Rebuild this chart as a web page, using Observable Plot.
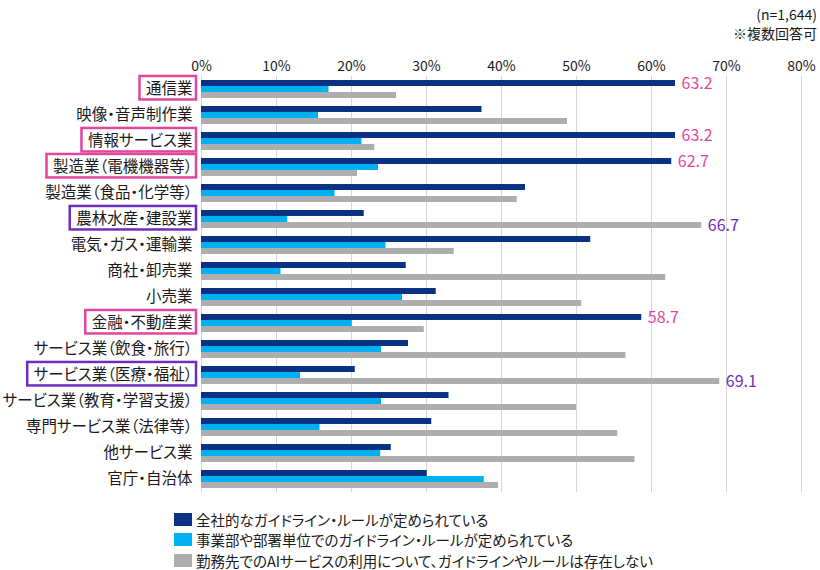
<!DOCTYPE html>
<html>
<head>
<meta charset="utf-8">
<script src="https://cdn.jsdelivr.net/npm/d3@7"></script>
<script src="https://cdn.jsdelivr.net/npm/@observablehq/plot@0.6"></script>
<style>
  body { margin: 0; background: #fff; font-family: "Noto Sans CJK JP", "Noto Sans", sans-serif; color: #1a1a1a; }
  #wrap { position: relative; width: 820px; height: 570px; overflow: hidden; }
  #chart { position: absolute; left: 0; top: 0; }
  #note { position: absolute; right: 3px; top: 5px; text-align: right; font-size: 14px; line-height: 19px; font-feature-settings: "palt"; }
  #legend { position: absolute; left: 174px; top: 509px; font-size: 14.5px; font-feature-settings: "palt"; }
  .item { display: flex; align-items: center; height: 20.5px; white-space: nowrap; }
  .sw { width: 18px; height: 13px; margin-right: 4px; flex: none; }
  svg text { font-feature-settings: "palt"; }
</style>
</head>
<body>
<div id="wrap">
  <div id="chart"></div>
  <div id="note"></div>
  <div id="legend"></div>
</div>
<script>
// Industries, top to bottom
const categories = [
  "通信業", "映像・音声制作業", "情報サービス業", "製造業（電機機器等）",
  "製造業（食品・化学等）", "農林水産・建設業", "電気・ガス・運輸業", "商社・卸売業",
  "小売業", "金融・不動産業", "サービス業（飲食・旅行）", "サービス業（医療・福祉）",
  "サービス業（教育・学習支援）", "専門サービス業（法律等）", "他サービス業", "官庁・自治体"
];

// Answer options (series)
const seriesNames = [
  "全社的なガイドライン・ルールが定められている",
  "事業部や部署単位でのガイドライン・ルールが定められている",
  "勤務先でのAIサービスの利用について、ガイドラインやルールは存在しない"
];

// Shares (%) per industry, in category order
const companyWide     = [63.2, 37.4, 63.2, 62.7, 43.2, 21.7, 51.9, 27.3, 31.3, 58.7, 27.6, 20.5, 33.0, 30.7, 25.3, 30.1];
const departmentLevel = [17.0, 15.6, 21.4, 23.6, 17.8, 11.5, 24.6, 10.6, 26.8, 20.1, 24.0, 13.2, 24.0, 15.8, 23.9, 37.7];
const noGuideline     = [26.0, 48.8, 23.1, 20.8, 42.1, 66.7, 33.7, 61.9, 50.7, 29.7, 56.6, 69.1, 50.0, 55.5, 57.8, 39.6];

const tickValues = [0, 10, 20, 30, 40, 50, 60, 70, 80];
const seriesColors = ["#0B3184", "#00B0F0", "#AEAEAE"];

// Industries called out: pink ones label the company-wide bar, purple ones the "none" bar
const pinkCategories = ["通信業", "情報サービス業", "製造業（電機機器等）", "金融・不動産業"];
const purpleCategories = ["農林水産・建設業", "サービス業（医療・福祉）"];
const pink = "#E2479C";
const purple = "#6E2DBE";

const noteLines = ["(n=1,644)", "※複数回答可"];

const seriesValues = [companyWide, departmentLevel, noGuideline];
const rows = [];
categories.forEach((category, i) => {
  seriesNames.forEach((series, s) => {
    rows.push({category, series, value: seriesValues[s][i]});
  });
});
const pinkLabels = rows.filter(d => pinkCategories.includes(d.category) && d.series === seriesNames[0]);
const purpleLabels = rows.filter(d => purpleCategories.includes(d.category) && d.series === seriesNames[2]);

const fontFamily = '"Noto Sans CJK JP", "Noto Sans", sans-serif';

const chart = Plot.plot({
  width: 820,
  height: 500,
  marginTop: 74,
  marginBottom: 6,
  marginLeft: 201,
  marginRight: 19,
  style: {fontFamily, fontSize: "16px", color: "#1a1a1a", background: "transparent"},
  x: {domain: [0, 80]},
  y: {domain: seriesNames, padding: 0, insetTop: 2.6, insetBottom: 2.6, axis: null},
  fy: {domain: categories, padding: 0},
  color: {domain: seriesNames, range: seriesColors},
  marks: [
    Plot.gridX(tickValues, {stroke: "#d6d6d6", strokeOpacity: 1}),
    Plot.axisX(tickValues, {anchor: "top", tickSize: 0, tickPadding: 6, tickFormat: d => d + "%", fontSize: 14, label: null}),
    Plot.axisFy({anchor: "left", tickSize: 0, tickPadding: 9, fontSize: 15.5, label: null}),
    Plot.barX(rows, {x: "value", y: "series", fy: "category", fill: "series"}),
    Plot.text(pinkLabels, {x: "value", y: "series", fy: "category", text: d => d.value.toFixed(1),
      textAnchor: "start", dx: 6, fill: pink, fontSize: 16}),
    Plot.text(purpleLabels, {x: "value", y: "series", fy: "category", text: d => d.value.toFixed(1),
      textAnchor: "start", dx: 6, fill: purple, fontSize: 16})
  ]
});
document.getElementById("chart").appendChild(chart);

// Frame the called-out industry names
const svgBox = chart.getBoundingClientRect();
chart.querySelectorAll('g[aria-label="fy-axis tick label"] text').forEach(t => {
  const name = t.textContent;
  const color = pinkCategories.includes(name) ? pink : purpleCategories.includes(name) ? purple : null;
  if (!color) return;
  const b = t.getBoundingClientRect();
  const r = document.createElementNS("http://www.w3.org/2000/svg", "rect");
  r.setAttribute("x", b.left - svgBox.left - 6.5);
  r.setAttribute("y", b.top - svgBox.top - 0.5);
  r.setAttribute("width", b.width + 10);
  r.setAttribute("height", b.height + 1.5);
  r.setAttribute("fill", "none");
  r.setAttribute("stroke", color);
  r.setAttribute("stroke-width", 2.5);
  chart.appendChild(r);
});

// Sample size note
const note = document.getElementById("note");
noteLines.forEach(line => {
  const div = document.createElement("div");
  div.textContent = line;
  note.appendChild(div);
});

// Legend
const legend = document.getElementById("legend");
seriesNames.forEach((name, i) => {
  const item = document.createElement("div");
  item.className = "item";
  const sw = document.createElement("span");
  sw.className = "sw";
  sw.style.background = seriesColors[i];
  const label = document.createElement("span");
  label.textContent = name;
  item.appendChild(sw);
  item.appendChild(label);
  legend.appendChild(item);
});
</script>
</body>
</html>
